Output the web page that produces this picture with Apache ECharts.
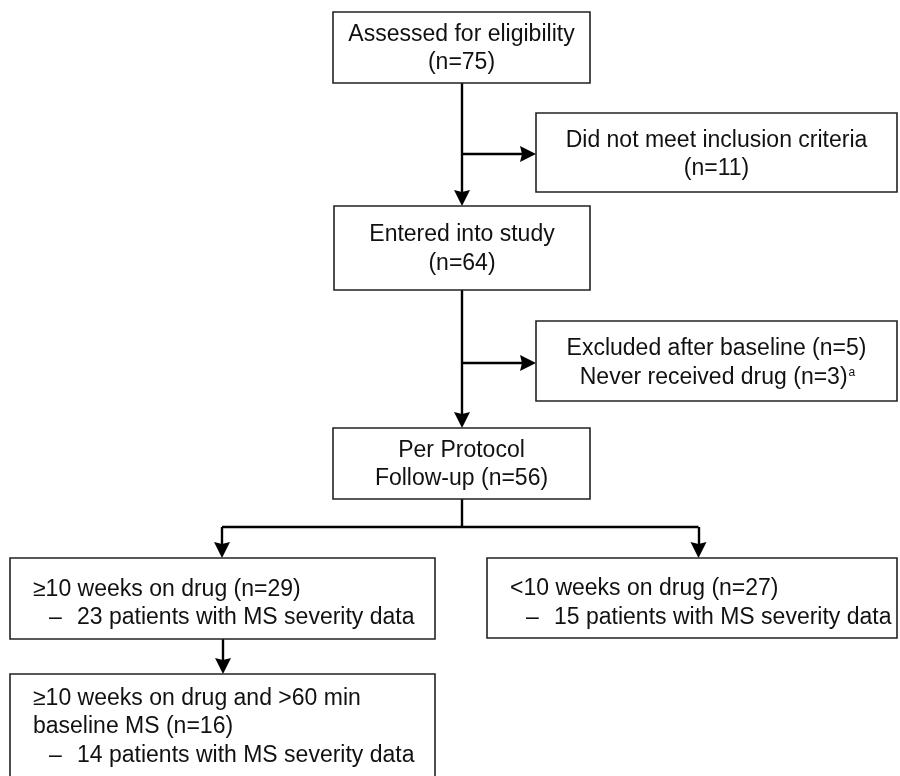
<!DOCTYPE html>
<html>
<head>
<meta charset="utf-8">
<script src="https://cdn.jsdelivr.net/npm/echarts@6/dist/echarts.min.js"></script>
<style>html,body{margin:0;padding:0;background:#fff}#c{width:900px;height:776px}</style>
</head>
<body>
<div id="c"></div>
<script>
// ---- data ----
const stageTitles = [
  ['Assessed for eligibility'],
  ['Did not meet inclusion criteria'],
  ['Entered into study'],
  ['Excluded after baseline', 'Never received drug'],
  ['Per Protocol', 'Follow-up'],
  ['≥10 weeks on drug'],
  ['<10 weeks on drug'],
  ['≥10 weeks on drug and >60 min', 'baseline MS']
];
const stageCounts = [[75], [11], [64], [5, 3], [56], [29], [27], [16]];
const severityCounts = [null, null, null, null, null, 23, 15, 14];
const footnoteMarks = [null, null, null, 'a', null, null, null, null];
// flow links: [from, to, route]
const flowLinks = [[0, 2, 'down'], [0, 1, 'side'], [2, 4, 'down'], [2, 3, 'side'], [4, 5, 'split'], [4, 6, 'split'], [5, 7, 'down']];

// ---- layout (positions / sizes in page pixels) ----
const boxLayout = [
  {x: 333, y: 12, w: 257, h: 71, align: 'center', countMode: 'newline', dy: 0},
  {x: 536, y: 113, w: 361, h: 79, align: 'center', countMode: 'newline', dy: 1},
  {x: 334, y: 206, w: 256, h: 84, align: 'center', countMode: 'newline', dy: 0},
  {x: 536, y: 321, w: 361, h: 80, align: 'center', countMode: 'inline', dy: 1},
  {x: 333, y: 428, w: 257, h: 71, align: 'center', countMode: 'lastline', dy: 0},
  {x: 10, y: 558, w: 425, h: 81, align: 'left', countMode: 'inline', dy: 4},
  {x: 487, y: 558, w: 410, h: 80, align: 'left', countMode: 'inline', dy: 4},
  {x: 10, y: 674, w: 425, h: 104, align: 'left', countMode: 'lastline', dy: 0}
];
const sideArrowY = {1: 154, 3: 363};
const splitY = 527;
const splitX = {5: 222, 6: 698.5};
const ARROW_LEN = 16;

function buildLines(i) {
  const t = stageTitles[i], c = stageCounts[i], mode = boxLayout[i].countMode;
  let lines;
  if (mode === 'newline') lines = [t[0], '(n=' + c[0] + ')'];
  else if (mode === 'inline') lines = t.map((s, k) => s + ' (n=' + c[k] + ')');
  else lines = t.map((s, k) => k === t.length - 1 ? s + ' (n=' + c[0] + ')' : s);
  const out = lines.map(s => ({text: s, bullet: false}));
  if (severityCounts[i] != null) out.push({text: severityCounts[i] + ' patients with MS severity data', bullet: true});
  return out;
}

const FONT = '23px "Liberation Sans", Arial, Helvetica, sans-serif';
const LH = 28.5;

function renderBox(params, api) {
  const i = params.dataIndex;
  const L = boxLayout[i];
  const p0 = api.coord([L.x, L.y]);
  const p1 = api.coord([L.x + L.w, L.y + L.h]);
  const children = [{
    type: 'rect',
    shape: {x: p0[0], y: p0[1], width: p1[0] - p0[0], height: p1[1] - p0[1]},
    style: {fill: '#fff', stroke: '#222', lineWidth: 1.6}
  }];
  const lines = buildLines(i);
  const cy = (p0[1] + p1[1]) / 2 + 1 + L.dy;
  const n = lines.length;
  lines.forEach((ln, k) => {
    const y = cy + (k - (n - 1) / 2) * LH;
    if (L.align === 'center') {
      const fm = footnoteMarks[i];
      if (fm && k === n - 1) {
        children.push({
          type: 'text',
          style: {
            text: '{m|' + ln.text + '}{s|' + fm + '}',
            x: (p0[0] + p1[0]) / 2 + 1, y: y,
            align: 'center', verticalAlign: 'middle',
            rich: {
              m: {font: FONT, fill: '#111'},
              s: {font: '12px "Liberation Sans", Arial, sans-serif', fill: '#111', padding: [0, 0, 10, 1]}
            }
          }
        });
      } else {
        children.push({type: 'text', style: {text: ln.text, x: (p0[0] + p1[0]) / 2, y: y, font: FONT, fill: '#111', align: 'center', verticalAlign: 'middle'}});
      }
    } else {
      const x = p0[0] + 23;
      if (ln.bullet) {
        children.push({type: 'text', style: {text: '–', x: x + 16, y: y, font: FONT, fill: '#111', align: 'left', verticalAlign: 'middle'}});
        children.push({type: 'text', style: {text: ln.text, x: x + 44, y: y, font: FONT, fill: '#111', align: 'left', verticalAlign: 'middle'}});
      } else {
        children.push({type: 'text', style: {text: ln.text, x: x, y: y, font: FONT, fill: '#111', align: 'left', verticalAlign: 'middle'}});
      }
    }
  });
  return {type: 'group', children: children};
}

// connector geometry derived from box layout (arrow symbol is centred on the end point)
const trunkX = boxLayout[0].x + boxLayout[0].w / 2 + 0.5;
const half = ARROW_LEN / 2;
const arrowLinks = [];
const plainLinks = [];
flowLinks.forEach(([a, b, route]) => {
  const A = boxLayout[a], B = boxLayout[b];
  if (route === 'side') {
    const ya = sideArrowY[b];
    arrowLinks.push({coords: [[trunkX, ya], [B.x - half, ya]]});
  } else if (route === 'split') {
    const bx = splitX[b];
    plainLinks.push({coords: [[bx, splitY], [trunkX, splitY]]});
    arrowLinks.push({coords: [[bx, splitY], [bx, B.y - half]]});
  } else {
    const bx = a === 0 || a === 2 ? trunkX : A.x + A.w / 2 + 0.5;
    arrowLinks.push({coords: [[bx, A.y + A.h], [bx, B.y - half]]});
  }
});
plainLinks.push({coords: [[trunkX, boxLayout[4].y + boxLayout[4].h], [trunkX, splitY]]});

const chart = echarts.init(document.getElementById('c'), null, {renderer: 'canvas'});
chart.setOption({
  animation: false,
  backgroundColor: '#fff',
  grid: {left: 0, right: 0, top: 0, bottom: 0},
  xAxis: {type: 'value', min: 0, max: 900, show: false},
  yAxis: {type: 'value', min: 0, max: 776, inverse: true, show: false},
  series: [
    {
      type: 'lines', coordinateSystem: 'cartesian2d', polyline: false,
      symbol: ['none', 'none'],
      lineStyle: {color: '#000', width: 2.4, opacity: 1},
      data: plainLinks, z: 1
    },
    {
      type: 'lines', coordinateSystem: 'cartesian2d', polyline: false,
      symbol: ['none', 'path://M5,0 L10,16 L5,14 L0,16 Z'], symbolSize: [11, ARROW_LEN],
      itemStyle: {color: '#000'},
      lineStyle: {color: '#000', width: 2.4, opacity: 1},
      data: arrowLinks, z: 1
    },
    {
      type: 'custom', coordinateSystem: 'cartesian2d',
      renderItem: renderBox,
      data: stageTitles.map((t, i) => [boxLayout[i].x, boxLayout[i].y]),
      z: 2, silent: true
    }
  ]
});
</script>
</body>
</html>
